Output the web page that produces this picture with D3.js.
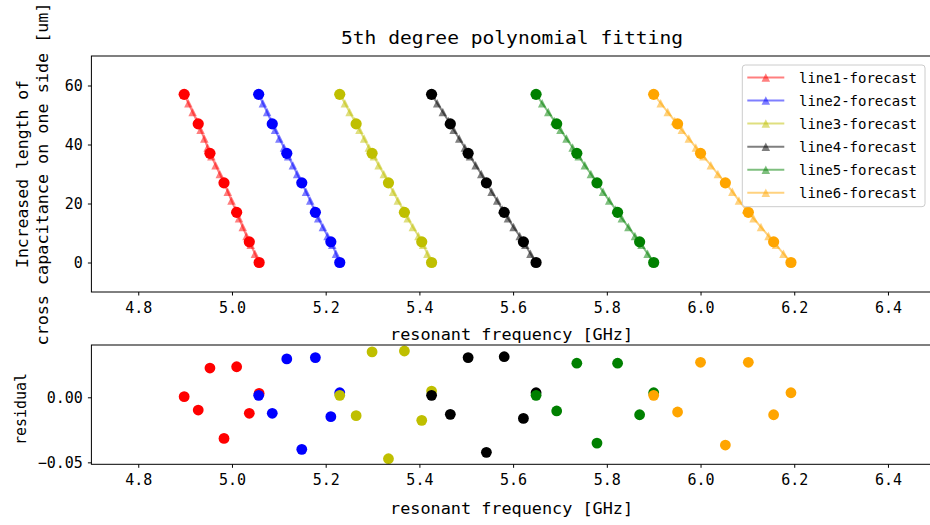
<!DOCTYPE html>
<html>
<head>
<meta charset="utf-8">
<script src="https://cdn.jsdelivr.net/npm/d3@7"></script>
<style>
  html, body { margin: 0; padding: 0; background: #fff; }
  svg { display: block; }
  text { font-family: "DejaVu Sans Mono", "Liberation Mono", monospace; fill: #000; }
</style>
</head>
<body>
<svg id="chart" width="930" height="525"></svg>
<script>
// ---------------- DATA ----------------
const categories = ["line1", "line2", "line3", "line4", "line5", "line6"];
const seriesColors = ["#ff0000", "#0000ff", "#bfbf00", "#000000", "#008000", "#ffa500"];

// measured increased length (um), paired with the frequencies below
const lengthValues = [57, 47, 37, 27, 17, 7, 0];

const freq1 = [4.898, 4.928, 4.953, 4.983, 5.010, 5.037, 5.058];
const freq2 = [5.057, 5.086, 5.117, 5.149, 5.178, 5.211, 5.230];
const freq3 = [5.230, 5.265, 5.299, 5.334, 5.368, 5.405, 5.426];
const freq4 = [5.426, 5.466, 5.504, 5.543, 5.581, 5.622, 5.649];
const freq5 = [5.649, 5.693, 5.736, 5.779, 5.823, 5.870, 5.900];
const freq6 = [5.900, 5.951, 6.000, 6.053, 6.102, 6.156, 6.193];

// residuals of the fit
const resid1 = [0.0005, -0.0098, 0.0225, -0.0316, 0.0235, -0.0123, 0.0030];
const resid2 = [0.0015, -0.0123, 0.0295, -0.0400, 0.0305, -0.0149, 0.0035];
const resid3 = [0.0015, -0.0141, 0.0349, -0.0472, 0.0356, -0.0177, 0.0048];
const resid4 = [0.0015, -0.0131, 0.0305, -0.0423, 0.0312, -0.0162, 0.0035];
const resid5 = [0.0015, -0.0105, 0.0262, -0.0352, 0.0262, -0.0134, 0.0035];
const resid6 = [0.0015, -0.0113, 0.0269, -0.0367, 0.0269, -0.0134, 0.0035];

// forecast curves (triangles)
const forecastLength = [57, 54, 51, 48, 45, 42, 39, 36, 33, 30, 27, 24, 21, 18, 15, 12, 9, 6, 3, 0];
const forecast1 = [4.898, 4.907, 4.916, 4.925, 4.933, 4.941, 4.948, 4.956, 4.965, 4.974, 4.983, 4.991, 4.999, 5.007, 5.015, 5.023, 5.031, 5.040, 5.049, 5.058];
const forecast2 = [5.057, 5.066, 5.075, 5.083, 5.092, 5.101, 5.111, 5.120, 5.130, 5.139, 5.149, 5.158, 5.167, 5.175, 5.184, 5.194, 5.204, 5.214, 5.222, 5.230];
const forecast3 = [5.230, 5.241, 5.251, 5.262, 5.272, 5.282, 5.292, 5.303, 5.313, 5.324, 5.334, 5.344, 5.354, 5.365, 5.375, 5.386, 5.398, 5.408, 5.417, 5.426];
const forecast4 = [5.426, 5.438, 5.450, 5.462, 5.473, 5.485, 5.497, 5.508, 5.520, 5.532, 5.543, 5.554, 5.566, 5.577, 5.589, 5.601, 5.614, 5.626, 5.637, 5.649];
const forecast5 = [5.649, 5.662, 5.675, 5.688, 5.701, 5.714, 5.727, 5.740, 5.753, 5.766, 5.779, 5.792, 5.805, 5.819, 5.832, 5.846, 5.860, 5.874, 5.887, 5.900];
const forecast6 = [5.900, 5.915, 5.930, 5.945, 5.960, 5.975, 5.990, 6.006, 6.022, 6.037, 6.053, 6.068, 6.082, 6.097, 6.113, 6.129, 6.145, 6.161, 6.177, 6.193];

const xTicks = [4.8, 5.0, 5.2, 5.4, 5.6, 5.8, 6.0, 6.2, 6.4];
const yTicksTop = [0, 20, 40, 60];
const yTicksBottom = [-0.05, 0.00];

const titleText = "5th degree polynomial fitting";
const xLabelText = "resonant frequency [GHz]";
const yLabelTopLines = ["Increased length of", "cross capacitance on one side [um]"];
const yLabelBottomText = "residual";

// ---------------- BUILD ----------------
const allFreq = [freq1, freq2, freq3, freq4, freq5, freq6];
const allResid = [resid1, resid2, resid3, resid4, resid5, resid6];
const allForecast = [forecast1, forecast2, forecast3, forecast4, forecast5, forecast6];

const svg = d3.select("#chart");

const x = d3.scaleLinear().domain([4.7, 6.51]).range([91.4, 939.5]);
const yTop = d3.scaleLinear().domain([-10, 70]).range([292, 56]);
const yBot = d3.scaleLinear().domain([-0.0515, 0.0402]).range([464.3, 345]);

const tickFont = 15;

function trianglePath(m) {
  const h = m / 2;
  return `M0,${-h}L${-h},${h}L${h},${h}Z`;
}

function drawFrame(yScale) {
  const [x0, x1] = x.range();
  const [yb, yt] = yScale.range();
  svg.append("rect")
    .attr("x", x0).attr("y", yt)
    .attr("width", x1 - x0).attr("height", yb - yt)
    .attr("fill", "none").attr("stroke", "#000").attr("stroke-width", 1);
}

function drawXAxis(yScale, labelBaselineOffset) {
  const yb = yScale.range()[0];
  const g = svg.append("g").attr("transform", `translate(0,${yb})`);
  const ax = d3.axisBottom(x).tickValues(xTicks).tickSize(3.5).tickPadding(4)
    .tickFormat(d3.format(".1f"));
  g.call(ax);
  g.select(".domain").remove();
  g.selectAll(".tick line").attr("stroke", "#000");
  g.selectAll(".tick text")
    .attr("font-size", tickFont)
    .attr("font-family", "DejaVu Sans Mono")
    .attr("fill", "#000")
    .attr("dy", null)
    .attr("y", labelBaselineOffset);
}

function drawYAxis(yScale, ticks, fmt) {
  const g = svg.append("g").attr("transform", `translate(${x.range()[0]},0)`);
  const ax = d3.axisLeft(yScale).tickValues(ticks).tickSize(3.5).tickPadding(5).tickFormat(fmt);
  g.call(ax);
  g.select(".domain").remove();
  g.selectAll(".tick line").attr("stroke", "#000");
  g.selectAll(".tick text")
    .attr("font-size", tickFont)
    .attr("font-family", "DejaVu Sans Mono")
    .attr("fill", "#000");
}

// ---- Top plot ----
const plotTop = svg.append("g");
const clipTop = svg.append("clipPath").attr("id", "clipTop");
clipTop.append("rect").attr("x", x.range()[0]).attr("y", yTop.range()[1])
  .attr("width", x.range()[1] - x.range()[0]).attr("height", yTop.range()[0] - yTop.range()[1]);
plotTop.attr("clip-path", "url(#clipTop)");

const line = d3.line().x(d => x(d[0])).y(d => yTop(d[1]));

categories.forEach((c, i) => {
  const col = seriesColors[i];
  const fpts = allForecast[i].map((f, k) => [f, forecastLength[k]]);
  const gs = plotTop.append("g");
  // forecast line
  gs.append("path").datum(fpts)
    .attr("d", line).attr("fill", "none")
    .attr("stroke", col).attr("stroke-width", 2).attr("stroke-opacity", 0.5);
  gs.selectAll("path.tri").data(fpts).enter().append("path")
    .attr("class", "tri")
    .attr("d", trianglePath(8.5))
    .attr("transform", d => `translate(${x(d[0])},${yTop(d[1])})`)
    .attr("fill", col).attr("fill-opacity", 0.5);
  // measured points
  const mpts = allFreq[i].map((f, k) => [f, lengthValues[k]]);
  gs.selectAll("circle").data(mpts).enter().append("circle")
    .attr("cx", d => x(d[0])).attr("cy", d => yTop(d[1]))
    .attr("r", 5.6).attr("fill", col);
});

drawFrame(yTop);
drawXAxis(yTop, 21);
drawYAxis(yTop, yTicksTop, d3.format("d"));

// ---- Bottom plot ----
const plotBot = svg.append("g");
const clipBot = svg.append("clipPath").attr("id", "clipBot");
clipBot.append("rect").attr("x", x.range()[0]).attr("y", yBot.range()[1])
  .attr("width", x.range()[1] - x.range()[0]).attr("height", yBot.range()[0] - yBot.range()[1]);
plotBot.attr("clip-path", "url(#clipBot)");

categories.forEach((c, i) => {
  const col = seriesColors[i];
  const pts = allFreq[i].map((f, k) => [f, allResid[i][k]]);
  plotBot.append("g").selectAll("circle").data(pts).enter().append("circle")
    .attr("cx", d => x(d[0])).attr("cy", d => yBot(d[1]))
    .attr("r", 5.4).attr("fill", col);
});

drawFrame(yBot);
drawXAxis(yBot, 21);
drawYAxis(yBot, yTicksBottom, d => d === 0 ? "0.00" : "\u22120.05");

// ---- Legend ----
const legend = svg.append("g");
legend.append("rect")
  .attr("x", 742.3).attr("y", 65).attr("width", 182.7).attr("height", 141.7)
  .attr("rx", 3).attr("ry", 3)
  .attr("fill", "#fff").attr("fill-opacity", 0.8)
  .attr("stroke", "#cccccc").attr("stroke-width", 1);
categories.forEach((c, i) => {
  const cy = 77.5 + i * 23.05;
  const col = seriesColors[i];
  legend.append("line")
    .attr("x1", 747.3).attr("x2", 784.3).attr("y1", cy).attr("y2", cy)
    .attr("stroke", col).attr("stroke-width", 2).attr("stroke-opacity", 0.5);
  legend.append("path")
    .attr("d", trianglePath(8.5))
    .attr("transform", `translate(765.8,${cy})`)
    .attr("fill", col).attr("fill-opacity", 0.5);
  legend.append("text")
    .attr("x", 799).attr("y", cy + 5)
    .attr("font-size", 14)
    .attr("textLength", 118).attr("lengthAdjust", "spacingAndGlyphs")
    .text(c + "-forecast");
});

// ---- Titles / labels ----
const cx = (x.range()[0] + 936) / 2;
svg.append("text")
  .attr("x", 512).attr("y", 44)
  .attr("text-anchor", "middle").attr("font-size", 18)
  .attr("textLength", 342).attr("lengthAdjust", "spacingAndGlyphs")
  .text(titleText);

svg.append("text")
  .attr("x", 511.5).attr("y", 340)
  .attr("text-anchor", "middle").attr("font-size", 16)
  .attr("textLength", 243).attr("lengthAdjust", "spacingAndGlyphs")
  .text(xLabelText);

svg.append("text")
  .attr("x", 511.5).attr("y", 514)
  .attr("text-anchor", "middle").attr("font-size", 16)
  .attr("textLength", 243).attr("lengthAdjust", "spacingAndGlyphs")
  .text(xLabelText);

// rotated y label (two lines)
const yl = svg.append("text")
  .attr("transform", "translate(28,174) rotate(-90)")
  .attr("text-anchor", "middle").attr("font-size", 16);
yl.append("tspan").attr("x", 0).attr("y", 0)
  .attr("textLength", 188).attr("lengthAdjust", "spacingAndGlyphs")
  .text(yLabelTopLines[0]);
svg.append("text")
  .attr("transform", "translate(48,174) rotate(-90)")
  .attr("text-anchor", "middle").attr("font-size", 16)
  .attr("textLength", 343).attr("lengthAdjust", "spacingAndGlyphs")
  .text(yLabelTopLines[1]);

svg.append("text")
  .attr("transform", "translate(26,409) rotate(-90)")
  .attr("text-anchor", "middle").attr("font-size", 16)
  .attr("textLength", 72).attr("lengthAdjust", "spacingAndGlyphs")
  .text(yLabelBottomText);
</script>
</body>
</html>
